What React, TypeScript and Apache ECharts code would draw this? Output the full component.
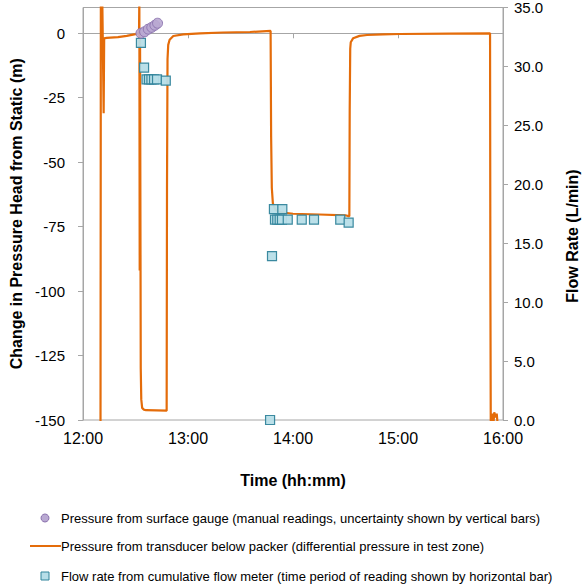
import React, { useEffect, useRef } from "react";
import * as echarts from "echarts";

// Minutes after 12:00
const transducerTime = [
  10.0, 10.2, 11.0, 11.3, 11.8, 12.1, 13.5, 20, 25, 30, 32.0,
  32.2, 32.4, 32.6, 33.0, 33.3, 33.8, 34.8, 36, 42, 47.8,
  48.0, 48.3, 48.7, 49.5, 51.6, 57.3, 66.9, 80, 95.4, 107.2,
  107.5, 107.9, 108.5, 110, 113, 120, 135, 150, 152.2,
  152.4, 152.7, 153.0, 154.4, 158, 162.3, 171.4, 181.1, 209.7, 232.6,
  232.8, 233.0, 233.6, 234.0, 234.4, 235.0, 235.8, 236.4, 237.0,
];
const transducerHead = [
  -160, 14, 14, -2, -31, -2, -1.8, -1.5, -1.0, -0.3, 0,
  14, -92, -2, -130, -142, -145.3, -146, -146.2, -146.3, -146.4,
  -60, -10, -4.5, -2.5, -1.05, -0.4, 0, 0.3, 0.5, 0.9,
  -40, -60, -66, -68.5, -69.5, -70, -70.3, -70.6, -71,
  -30, -6, -3.5, -1.9, -1.0, -0.66, -0.4, -0.27, -0.1, 0,
  -100, -150, -155, -147.5, -153, -147, -149, -147.5, -152,
];

const gaugeTime = [33.1, 35.2, 37.3, 39.3, 41.1, 42.6];
const gaugeHead = [0, 0.6, 1.6, 2.3, 3.1, 3.9];

const flowTime = [
  33.1, 34.9, 36.3, 37.7, 39.1, 40.6, 42.3, 47.3,
  106.9, 108.0, 109.1, 113.9, 109.7, 111.0, 112.4, 113.7, 117.0, 125.0, 132.0, 147.0, 151.8,
];
const flowRate = [
  32.0, 29.9, 28.9, 28.9, 28.9, 28.9, 28.9, 28.8,
  0, 13.9, 17.9, 17.9, 17.0, 17.0, 17.0, 17.0, 17.0, 17.0, 17.0, 17.0, 16.75,
];

const leftTicks = [-150, -125, -100, -75, -50, -25, 0];

const FONT = "'Liberation Sans', Arial, sans-serif";
const ORANGE = "#E46C0A";
const GRAY = "#A6A6A6";

export default function App() {
  const ref = useRef<HTMLDivElement>(null);
  useEffect(() => {
    if (!ref.current) return;
    const chart = echarts.init(ref.current, null, { renderer: "svg" });
    const lineData = transducerTime.map((t, i) => [t, transducerHead[i]]);
    const gaugeData = gaugeTime.map((t, i) => [t, gaugeHead[i]]);
    const flowData = flowTime.map((t, i) => [t, flowRate[i]]);
    chart.setOption({
      animation: false,
      textStyle: { fontFamily: FONT },
      grid: {
        left: 83,
        right: 81,
        top: 7,
        bottom: 164,
        show: true,
        borderColor: GRAY,
        borderWidth: 1,
      },
      xAxis: {
        type: "value",
        min: 0,
        max: 240,
        interval: 60,
        name: "Time (hh:mm)",
        nameLocation: "middle",
        nameGap: 52,
        nameTextStyle: { fontSize: 16, fontWeight: "bold", color: "#000", fontFamily: FONT },
        axisLine: { lineStyle: { color: GRAY } },
        axisTick: { show: true, length: 5, lineStyle: { color: GRAY } },
        splitLine: { show: false },
        axisLabel: {
          fontSize: 16,
          color: "#000",
          margin: 10,
          fontFamily: FONT,
          formatter: (v: number) => `${12 + Math.round(v / 60)}:00`,
        },
      },
      yAxis: [
        {
          type: "value",
          min: -150,
          max: 10,
          interval: 25,
          name: "Change in Pressure Head from Static (m)",
          nameLocation: "middle",
          nameGap: 51,
          nameRotate: 90,
          nameTextStyle: { fontSize: 16, fontWeight: "bold", color: "#000", fontFamily: FONT },
          axisLine: { show: true, lineStyle: { color: GRAY } },
          axisTick: { show: true, length: 5, lineStyle: { color: GRAY }, customValues: leftTicks },
          splitLine: { show: false },
          axisLabel: {
            fontSize: 15,
            color: "#000",
            margin: 18,
            fontFamily: FONT,
            customValues: leftTicks,
          },
        },
        {
          type: "value",
          position: "right",
          min: 0,
          max: 35,
          interval: 5,
          axisLine: { show: true, lineStyle: { color: GRAY } },
          axisTick: { show: true, length: 5, lineStyle: { color: GRAY } },
          splitLine: { show: false },
          axisLabel: {
            fontSize: 15,
            color: "#000",
            margin: 11,
            fontFamily: FONT,
            formatter: (v: number) => v.toFixed(1),
          },
        },
      ],
      series: [
        {
          name: "Pressure from transducer below packer (differential pressure in test zone)",
          type: "line",
          yAxisIndex: 0,
          data: lineData,
          showSymbol: false,
          symbol: "none",
          clip: true,
          lineStyle: { color: ORANGE, width: 2.2 },
          z: 2,
        },
        {
          name: "Flow rate from cumulative flow meter (time period of reading shown by horizontal bar)",
          type: "scatter",
          yAxisIndex: 1,
          data: flowData,
          symbol: "rect",
          symbolSize: 9,
          clip: false,
          itemStyle: { color: "#B7DEE8", borderColor: "#31849B", borderWidth: 1.2, opacity: 0.95 },
          z: 3,
        },
        {
          name: "Pressure from surface gauge (manual readings, uncertainty shown by vertical bars)",
          type: "scatter",
          yAxisIndex: 0,
          data: gaugeData,
          symbol: "circle",
          symbolSize: 10,
          itemStyle: { color: "#B9A9D2", borderColor: "#8B72AE", borderWidth: 1, opacity: 0.9 },
          z: 4,
        },
      ],
      graphic: [
        {
          type: "text",
          x: 572,
          y: 236,
          rotation: Math.PI / 2,
          style: {
            text: "Flow Rate (L/min)",
            font: `bold 16px ${FONT}`,
            fill: "#000",
            align: "center",
            verticalAlign: "middle",
          },
        },
        {
          type: "circle",
          shape: { cx: 45, cy: 518, r: 4 },
          style: { fill: "#B9A9D2", stroke: "#8B72AE", lineWidth: 1 },
        },
        {
          type: "text",
          x: 61,
          y: 518,
          style: {
            text: "Pressure from surface gauge (manual readings, uncertainty shown by vertical bars)",
            font: `13px ${FONT}`,
            fill: "#000",
            verticalAlign: "middle",
          },
        },
        {
          type: "line",
          shape: { x1: 30, y1: 546, x2: 61, y2: 546 },
          style: { stroke: ORANGE, lineWidth: 2 },
        },
        {
          type: "text",
          x: 61,
          y: 546,
          style: {
            text: "Pressure from transducer below packer (differential pressure in test zone)",
            font: `13px ${FONT}`,
            fill: "#000",
            verticalAlign: "middle",
          },
        },
        {
          type: "rect",
          shape: { x: 41, y: 572, width: 8, height: 8 },
          style: { fill: "#B7DEE8", stroke: "#31849B", lineWidth: 1 },
        },
        {
          type: "text",
          x: 61,
          y: 576,
          style: {
            text: "Flow rate from cumulative flow meter (time period of reading shown by horizontal bar)",
            font: `13px ${FONT}`,
            fill: "#000",
            verticalAlign: "middle",
          },
        },
      ],
    });
    return () => chart.dispose();
  }, []);
  return <div ref={ref} style={{ width: 584, height: 584, position: "absolute", left: 0, top: 0 }} />;
}
